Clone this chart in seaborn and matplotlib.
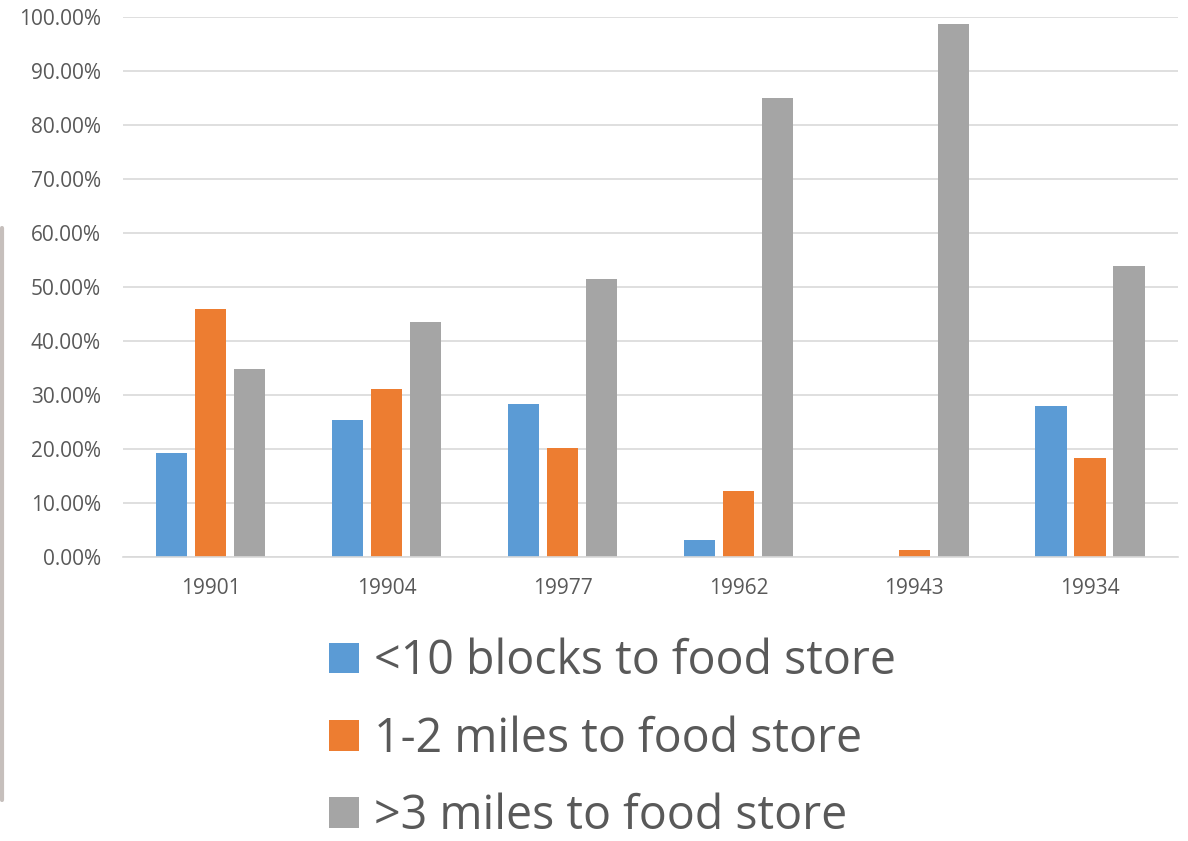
import matplotlib
matplotlib.use("Agg")
import matplotlib.pyplot as plt
import seaborn as sns
import pandas as pd
from matplotlib.ticker import PercentFormatter, MultipleLocator
from matplotlib.patches import Patch
from matplotlib.lines import Line2D

zip_codes = ["19901", "19904", "19977", "19962", "19943", "19934"]
series_names = ["<10 blocks to food store", "1-2 miles to food store", ">3 miles to food store"]
near = [0.192, 0.254, 0.283, 0.031, 0.0, 0.280]
mid = [0.460, 0.311, 0.202, 0.122, 0.013, 0.183]
far = [0.348, 0.435, 0.515, 0.850, 0.987, 0.539]
colors = ["#5B9BD5", "#ED7D31", "#A5A5A5"]

rows = []
for name, vals in zip(series_names, [near, mid, far]):
    for z, v in zip(zip_codes, vals):
        rows.append({"zip": z, "series": name, "value": v})
df = pd.DataFrame(rows)

sns.set_theme(style="white")
plt.rcParams["font.family"] = ["Open Sans", "DejaVu Sans"]

fig = plt.figure(figsize=(11.88, 8.41), dpi=100)
ax = fig.add_axes([0.1035, 0.3377, 0.888, 0.6421])

sns.barplot(data=df, x="zip", y="value", hue="series", palette=colors,
            width=0.665, gap=0.2, ax=ax, legend=False, saturation=1,
            edgecolor="none")

ax.set_ylim(0, 1.0)
ax.set_xlim(-0.5, 5.5)
ax.yaxis.set_major_locator(MultipleLocator(0.1))
ax.yaxis.set_major_formatter(PercentFormatter(1.0, decimals=2))
ax.grid(axis="y", color="#D9D9D9", linewidth=1.2)
ax.set_axisbelow(True)
for s in ["top", "right", "left"]:
    ax.spines[s].set_visible(False)
ax.spines["bottom"].set_color("#D9D9D9")
ax.spines["bottom"].set_linewidth(1.2)
ax.tick_params(axis="both", length=0, labelsize=15, labelcolor="#595959")
ax.tick_params(axis="y", pad=16)
ax.tick_params(axis="x", pad=15)
ax.set_xlabel("")
ax.set_ylabel("")

handles = [Patch(facecolor=c, edgecolor="none") for c in colors]
fig.legend(handles, series_names, loc="center left", bbox_to_anchor=(0.277, 1 - 739 / 841),
           frameon=False, fontsize=33.5, labelcolor="#595959",
           handlelength=0.64, handleheight=0.64, handletextpad=0.33,
           labelspacing=0.64, borderaxespad=0, borderpad=0)

fig.add_artist(Line2D([0.002, 0.002], [1 - 228 / 841, 1 - 800 / 841],
                      transform=fig.transFigure, color="#B8B0AC", linewidth=3, alpha=0.8))

fig.savefig("out.png", dpi=100)
